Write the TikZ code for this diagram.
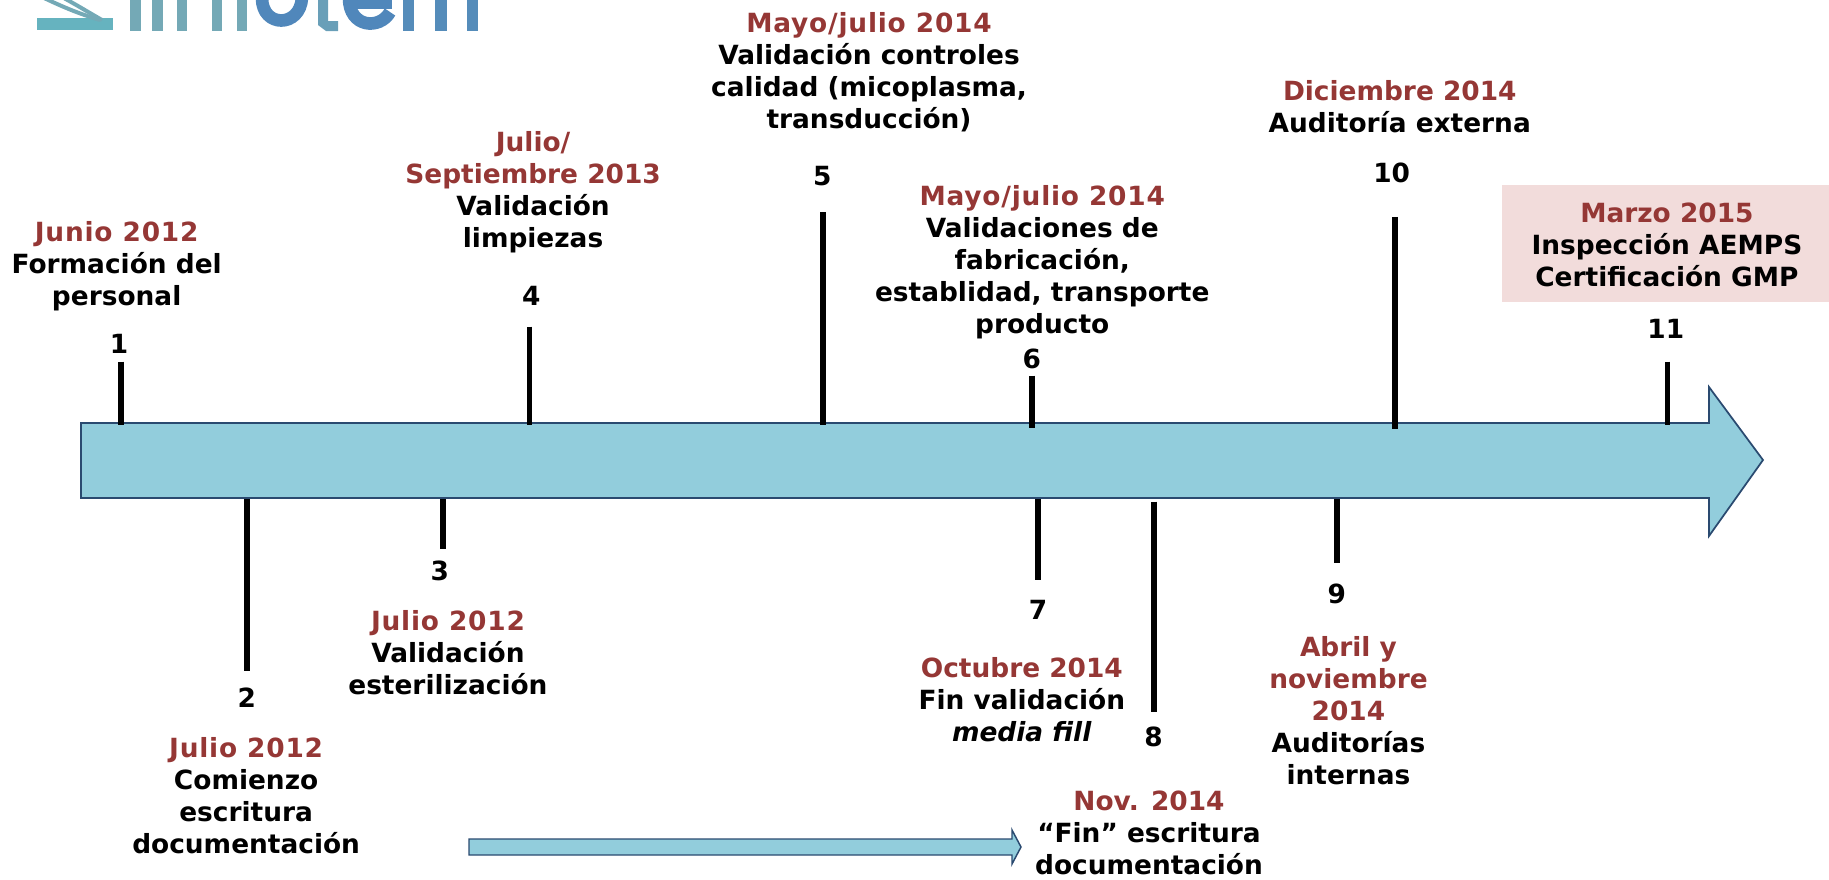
\documentclass[tikz,border=0pt]{standalone}
\usepackage{fontspec}
\setmainfont{DejaVu Sans}
\definecolor{datered}{HTML}{953735}
\definecolor{arrowfill}{HTML}{92CDDC}
\definecolor{arrowline}{HTML}{2A4A70}
\definecolor{boxfill}{HTML}{F2DCDB}
\definecolor{logoteal}{HTML}{74A9B6}
\definecolor{logoblue}{HTML}{5087BB}
\newcommand{\dt}[1]{\textcolor{datered}{#1}}
\newcommand{\dtw}[1]{\textcolor{datered}{\addfontfeature{LetterSpace=3}#1}}
\tikzset{
  lbl/.style={align=center,inner sep=0pt,text=black,font=\fontsize{19.8pt}{24pt}\selectfont\bfseries},
  tick/.style={draw=black,line width=4.3pt},
  bigarrow/.style={draw=arrowline,fill=arrowfill,line width=1.3pt,line join=miter},
  smallarrow/.style={draw=arrowline,fill=arrowfill,line width=1.1pt,line join=miter},
  logobar/.style={fill=logoteal,draw=none},
  logobarb/.style={fill=logoblue!85!logoteal,draw=none},
  logoarc/.style={draw=logoblue,line width=9.5pt}
}
\begin{document}
\begin{tikzpicture}
\useasboundingbox (0,0) rectangle (1371.75pt,-659.25pt);
% full-pixel coordinates
\begin{scope}[x=0.75pt,y=-0.75pt]
  % logo, cut by the top edge
  \begin{scope}
    \clip (0,0) rectangle (520,45);
    \fill[logoteal!88!cyan] (37,18) rectangle (113,30);
    \draw[logoteal,line width=3pt] (42,-3) .. controls (65,8) and (80,14) .. (100,20);
    \draw[logoteal,line width=3pt] (62,-3) .. controls (75,4) and (88,12) .. (102,20);
    \foreach \xa/\xb in {130/141,152/163,177/187,212/222,237/247}{
      \fill[logobar] (\xa,-2) rectangle (\xb,31);
    }
    \draw[logoarc] (262,-2) .. controls (262,28) and (300,28) .. (302,-2);
    \fill[logoteal!70!logoblue] (318,-2) -- (328,-2) -- (328,21) -- (338,21) -- (338,31) -- (326,31) -- (318,25) -- cycle;
    \draw[logoarc] (349,-2) .. controls (349,28) and (380,30) .. (390,12);
    \fill[logoblue] (349,-2) rectangle (392,9);
    \foreach \xa/\xb in {403/414,435/447,467/478}{
      \fill[logobarb] (\xa,-2) rectangle (\xb,31);
    }
  \end{scope}
  % main arrow
  \coordinate (bigtail) at (81,423);
  \draw[bigarrow] (bigtail) -- (1709,423) -- (1709,387) -- (1763,460) -- (1709,536) -- (1709,498) -- (81,498) -- cycle;
  % small arrow
  \draw[smallarrow] (469,839) -- (1012,839) -- (1012,830) -- (1021,847) -- (1012,864) -- (1012,855) -- (469,855) -- cycle;
  % highlighted box
  \node[fill=boxfill,inner sep=0pt,minimum width=245.25pt,minimum height=87.75pt,anchor=north west] (box11) at (1502,185) {};
\end{scope}
% coordinates of the reference as shown at 1568 wide
\begin{scope}[x=0.87487pt,y=-0.87487pt]
  \coordinate (a1) at (103.5,310);  \coordinate (b1) at (103.5,364);
  \coordinate (a4) at (454,280);    \coordinate (b4) at (454,364);
  \coordinate (a5) at (705.5,182);  \coordinate (b5) at (705.5,364);
  \coordinate (a6) at (884.5,322);  \coordinate (b6) at (884.5,367);
  \coordinate (a10) at (1196,186);  \coordinate (b10) at (1196,368);
  \coordinate (a11) at (1429.5,310);\coordinate (b11) at (1429.5,364);
  \coordinate (a2) at (211.5,428);  \coordinate (b2) at (211.5,575);
  \coordinate (a3) at (380,428);    \coordinate (b3) at (380,471);
  \coordinate (a7) at (890,428);    \coordinate (b7) at (890,497);
  \coordinate (a8) at (989,430);    \coordinate (b8) at (989,610);
  \coordinate (a9) at (1146,428);   \coordinate (b9) at (1146,483);
  \foreach \i in {1,2,...,11}{ \draw[tick] (a\i) -- (b\i); }

  \node[lbl] (n1) at (102,295) {1};
  \node[lbl] (n2) at (211.5,598) {2};
  \node[lbl] (n3) at (377,489) {3};
  \node[lbl] (n4) at (455.5,254) {4};
  \node[lbl] (n5) at (705,151) {5};
  \node[lbl] (n6) at (884.5,308) {6};
  \node[lbl] (n7) at (890,523) {7};
  \node[lbl] (n8) at (989,632) {8};
  \node[lbl] (n9) at (1146,509) {9};
  \node[lbl] (n10) at (1193,148) {10};
  \node[lbl] (n11) at (1428,282) {11};

  \node[lbl] (t1) at (100,228) {\dtw{Junio 2012}\\Formación del\\personal};
  \node[lbl] (t4) at (457,165) {\dt{Julio/}\\\dt{Septiembre 2013}\\Validación\\limpiezas};
  \node[lbl] (t5) at (745,61.5) {\dtw{Mayo/julio 2014}\\Validación controles\\calidad (micoplasma,\\transducción)};
  \node[lbl] (t6) at (893.5,224.5) {\dtw{Mayo/julio 2014}\\Validaciones de\\fabricación,\\establidad, transporte\\producto};
  \node[lbl] (t10) at (1200,91.5) {\dt{Diciembre 2014}\\Auditoría externa};
  \node[lbl] (t11) at (1429,210) {\dt{Marzo 2015}\\Inspección AEMPS\\Certificación GMP};
  \node[lbl] (t2) at (211,682.5) {\dtw{Julio 2012}\\Comienzo\\escritura\\documentación};
  \node[lbl] (t3) at (384,559.5) {\dtw{Julio 2012}\\Validación\\esterilización};
  \node[lbl] (t7) at (876,599.5) {\dt{Octubre 2014}\\Fin validación\\\textit{media fill}};
  \node[lbl] (t9) at (1156,609.5) {\dt{Abril y}\\\dt{noviembre}\\\dt{2014}\\Auditorías\\internas};
  \node[lbl] (t8) at (985,714) {\dt{Nov. 2014}\\“Fin” escritura\\documentación};
\end{scope}
\end{tikzpicture}
\end{document}
